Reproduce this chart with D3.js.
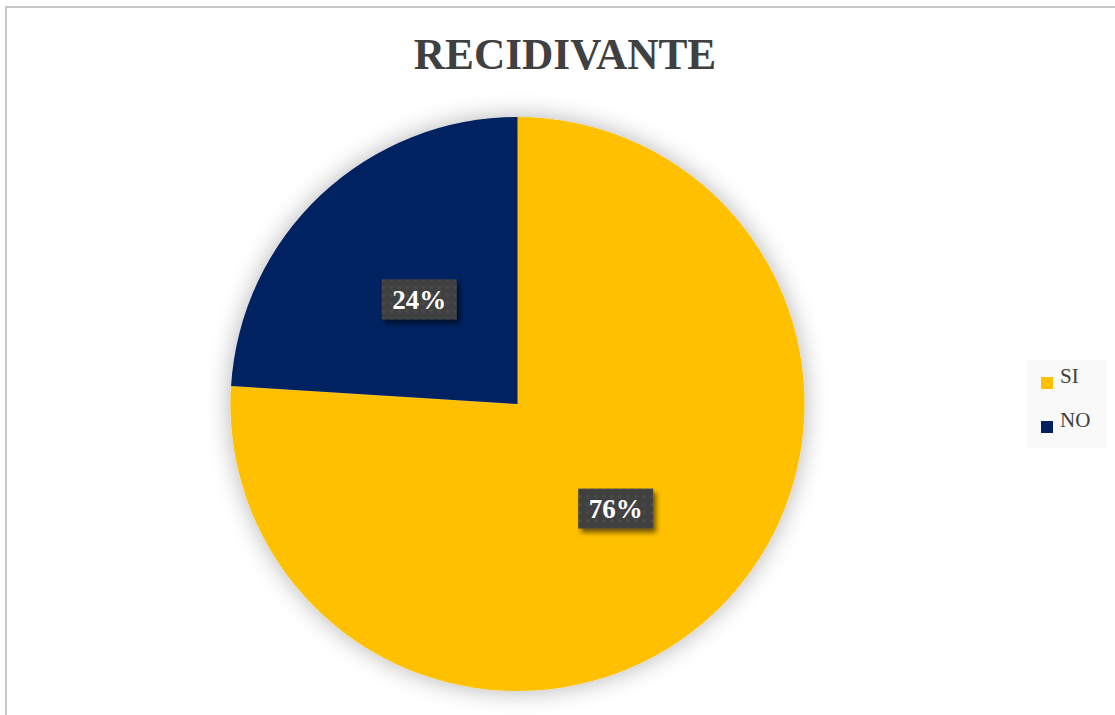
<!DOCTYPE html>
<html>
<head>
<meta charset="utf-8">
<script src="https://cdn.jsdelivr.net/npm/d3@7"></script>
<style>
  html, body { margin: 0; padding: 0; background: #ffffff; }
  svg { display: block; }
</style>
</head>
<body>
<script>
// Chart data
const categories = ["SI", "NO"];
const values = [76, 24];
const colors = ["#FFC000", "#002060"];
const title = "RECIDIVANTE";

const width = 1115, height = 715;
const cx = 517.5, cy = 404, radius = 287;

const svg = d3.select("body").append("svg")
  .attr("width", width).attr("height", height);

const defs = svg.append("defs");
// soft halo under the pie
const halo = defs.append("filter").attr("id", "halo")
  .attr("x", "-25%").attr("y", "-25%").attr("width", "150%").attr("height", "150%");
halo.append("feGaussianBlur").attr("in", "SourceAlpha").attr("stdDeviation", 12).attr("result", "b");
halo.append("feComponentTransfer").attr("in", "b").attr("result", "s")
  .append("feFuncA").attr("type", "linear").attr("slope", 0.3);
const hm = halo.append("feMerge");
hm.append("feMergeNode").attr("in", "s");
hm.append("feMergeNode").attr("in", "SourceGraphic");

// drop shadow for value labels
const ds = defs.append("filter").attr("id", "lblShadow")
  .attr("x", "-30%").attr("y", "-30%").attr("width", "160%").attr("height", "170%");
ds.append("feGaussianBlur").attr("in", "SourceAlpha").attr("stdDeviation", 2.5).attr("result", "b");
ds.append("feOffset").attr("in", "b").attr("dx", 3).attr("dy", 4).attr("result", "o");
ds.append("feComponentTransfer").attr("in", "o").attr("result", "s")
  .append("feFuncA").attr("type", "linear").attr("slope", 0.55);
const dm = ds.append("feMerge");
dm.append("feMergeNode").attr("in", "s");
dm.append("feMergeNode").attr("in", "SourceGraphic");

// faint dotted texture for label boxes
const pat = defs.append("pattern").attr("id", "lblFill")
  .attr("width", 8).attr("height", 8).attr("patternUnits", "userSpaceOnUse");
pat.append("rect").attr("width", 8).attr("height", 8).attr("fill", "#404040");
pat.append("circle").attr("cx", 4).attr("cy", 4).attr("r", 2).attr("fill", "#484848");

// chart area border (left and top visible)
svg.append("rect")
  .attr("x", 6).attr("y", 7).attr("width", width + 20).attr("height", height + 20)
  .attr("fill", "#ffffff").attr("stroke", "#c8c8c8").attr("stroke-width", 2);

// title
svg.append("text")
  .attr("x", 565).attr("y", 69)
  .attr("text-anchor", "middle")
  .attr("font-family", "'Liberation Serif', 'Times New Roman', serif")
  .attr("font-weight", "bold")
  .attr("font-size", 43.3)
  .attr("fill", "#404040")
  .text(title);

// pie
const pie = d3.pie().sort(null).value(d => d)(values);
const arc = d3.arc().innerRadius(0).outerRadius(radius);
const g = svg.append("g").attr("transform", `translate(${cx},${cy})`);

g.append("g").attr("filter", "url(#halo)")
  .selectAll("path").data(pie).join("path")
  .attr("d", arc)
  .attr("fill", (d, i) => colors[i]);

// value labels
const labelArc = d3.arc().innerRadius(radius * 0.5).outerRadius(radius * 0.5);
const lbl = g.selectAll("g.lbl").data(pie).join("g")
  .attr("class", "lbl")
  .attr("transform", d => {
    const [x, y] = labelArc.centroid(d);
    return `translate(${x},${y})`;
  });

lbl.append("rect")
  .attr("x", -37.5).attr("y", -20).attr("width", 75).attr("height", 40)
  .attr("fill", "url(#lblFill)")
  .attr("filter", "url(#lblShadow)");

lbl.append("text")
  .attr("text-anchor", "middle")
  .attr("dy", "0.36em")
  .attr("font-family", "'Liberation Serif', 'Times New Roman', serif")
  .attr("font-weight", "bold")
  .attr("font-size", 27)
  .attr("fill", "#ffffff")
  .text(d => d.data + "%");

// legend
const legend = svg.append("g").attr("transform", "translate(1027,360)");
legend.append("rect").attr("width", 80).attr("height", 88).attr("fill", "#f9f9f9");
const items = legend.selectAll("g.item").data(categories).join("g")
  .attr("class", "item")
  .attr("transform", (d, i) => `translate(14,${17 + i * 44})`);
items.append("rect").attr("width", 12).attr("height", 12)
  .attr("fill", (d, i) => colors[i]);
items.append("text")
  .attr("x", 19).attr("y", 6)
  .attr("font-family", "'Liberation Serif', 'Times New Roman', serif")
  .attr("font-size", 21)
  .attr("fill", "#404040")
  .text(d => d);
</script>
</body>
</html>
